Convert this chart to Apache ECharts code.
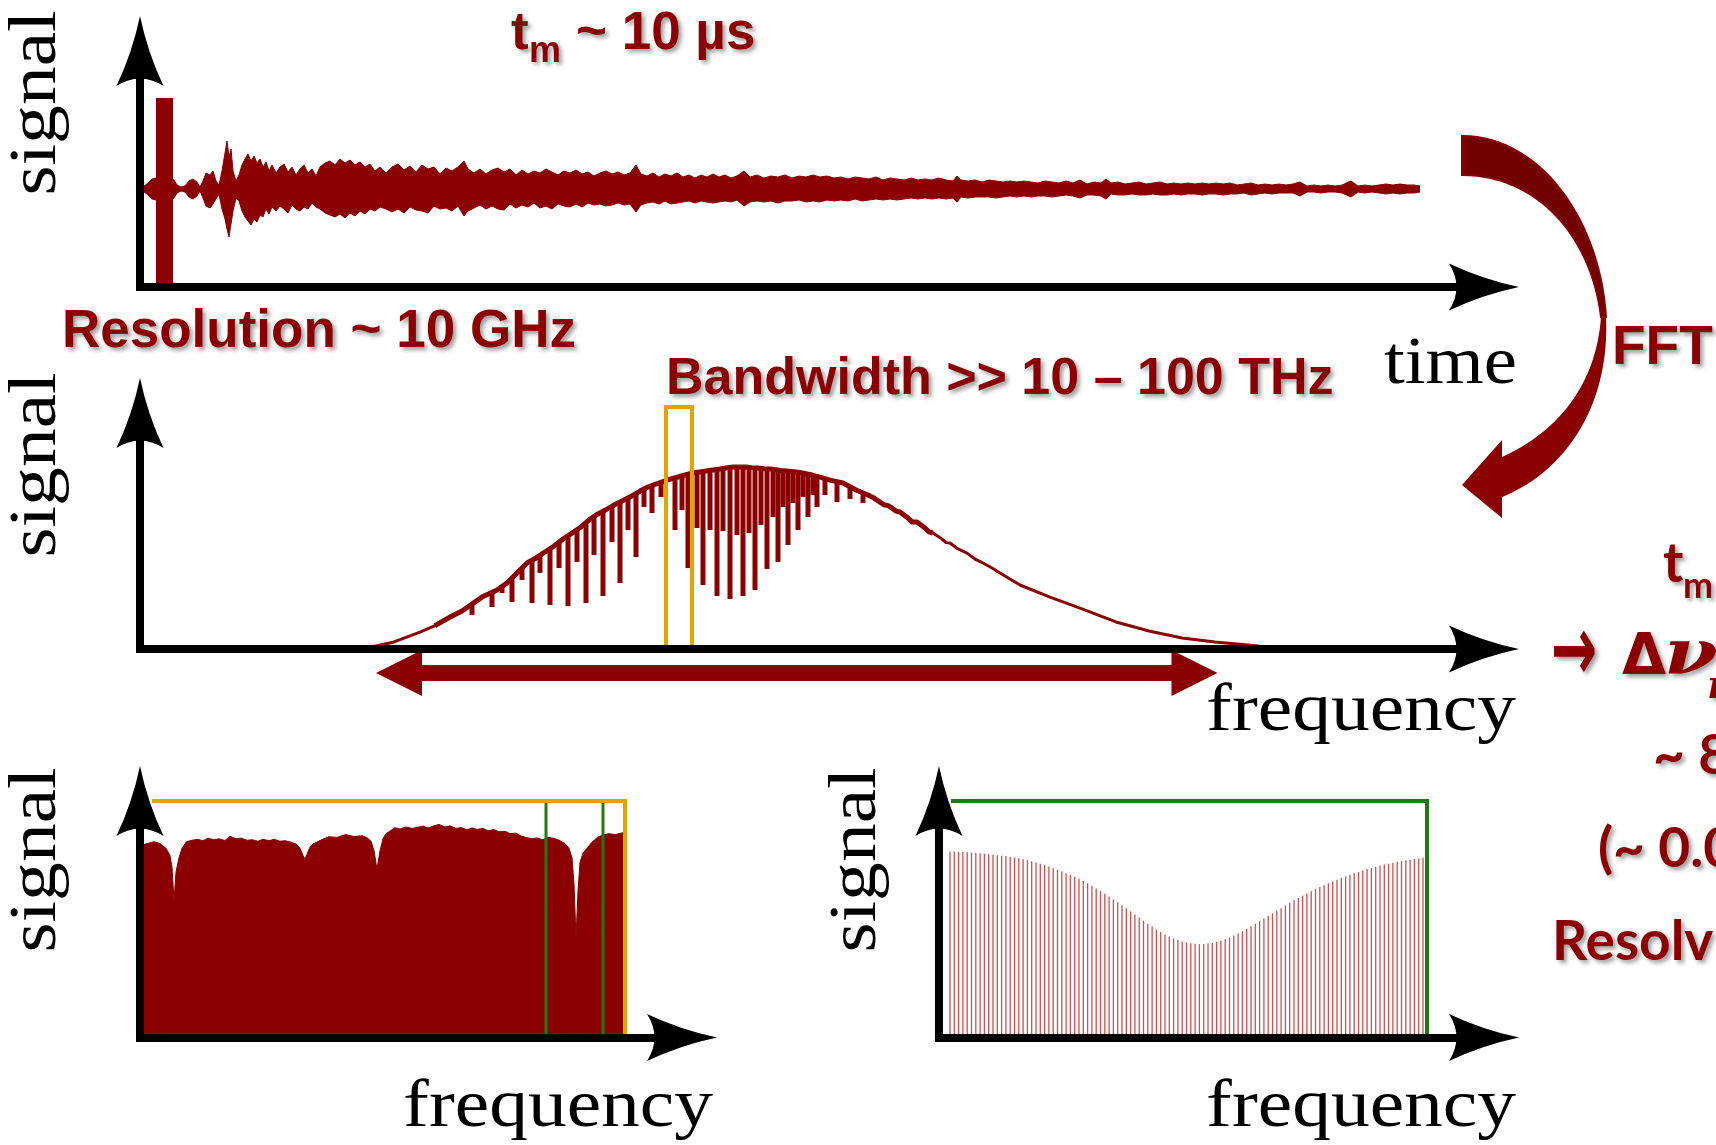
<!DOCTYPE html>
<html><head><meta charset="utf-8">
<script src="https://cdn.jsdelivr.net/npm/echarts@6/dist/echarts.min.js"></script>
<style>html,body{margin:0;padding:0;background:#fff}#c{width:1716px;height:1145px}</style>
</head><body><div id="c"></div>
<script>
// ===== DATA =====
// Panel 1: free-induction signal in time (µs), upper / lower envelope (a.u.)
const fidTime = [
 0.03,0.08,0.12,0.16,0.30,0.34,0.37,0.41,0.45,0.49,0.53,0.57,0.60,
 0.63,0.66,0.70,0.73,0.76,0.79,0.82,0.85,0.87,0.89,0.91,0.93,0.96,0.99,
 1.02,1.05,1.08,1.11,1.14,1.17,1.20,1.23,1.26,1.29,1.32,1.36,
 1.40,1.44,1.48,1.52,1.56,1.60,1.64,1.68,1.72,1.76,1.80,1.85,
 1.90,1.95,2.00,2.05,2.10,2.15,2.20,2.25,2.30,2.35,2.40,2.46,
 2.52,2.58,2.64,2.70,2.76,2.82,2.88,2.94,3.00,3.06,3.12,3.18,
 3.24,3.28,3.34,3.40,3.46,3.52,3.58,3.64,3.70,3.76,3.82,3.88,
 3.94,4.00,4.06,4.12,4.18,4.24,4.30,4.36,4.42,4.48,4.54,4.60,
 4.66,4.72,4.78,4.84,4.90,4.96,5.01,5.07,5.13,5.19,5.25,5.31,
 5.37,5.43,5.49,5.55,5.61,5.67,5.73,5.79,5.85,5.91,5.97,6.04,
 6.10,6.17,6.24,6.31,6.38,6.45,6.52,6.59,6.66,6.73,6.80,6.87,
 6.94,7.01,7.08,7.15,7.22,7.29,7.36,7.43,7.50,7.57,7.64,7.71,
 7.78,7.85,7.92,7.99,8.06,8.13,8.17,8.21,8.28,8.35,8.42,8.49,
 8.56,8.63,8.70,8.77,8.84,8.91,8.98,9.05,9.12,9.19,9.26,9.33,
 9.40,9.47,9.54,9.61,9.66,9.71,9.78,9.85,9.92,9.99,10.06,10.13,
 10.20,10.27,10.34,10.41,10.48,10.55,10.62,10.69,10.76,10.83,10.90,10.97,
 11.04,11.11,11.18,11.25,11.32,11.39,11.46,11.53,11.60,11.67,11.74,11.81,
 11.88,11.95,12.02,12.11,12.18,12.25,12.32,12.39,12.46,12.53,12.60,12.67,
 12.74,12.80];
const fidUpper = [
 2,6,10,11,11,9,4,2,3,8,10,7,2,
 8,16,14,18,8,4,18,36,48,32,40,18,8,14,
 24,30,35,28,33,26,30,22,27,18,24,16,
 22,25,17,22,14,20,24,16,20,13,22,26,
 28,24,30,26,29,24,27,22,25,18,22,16,
 22,25,19,23,17,24,20,22,15,21,18,22,
 28,20,16,20,15,19,21,17,20,14,19,15,
 18,16,20,17,14,18,16,19,15,17,13,16,
 18,15,17,14,16,24,15,13,16,12,15,13,
 16,12,14,11,14,12,15,12,14,11,13,18,
 12,14,11,13,12,14,11,13,12,14,12,13,
 11,12,10,12,11,10,12,9,11,10,9,11,
 9,10,9,11,9,8,13,9,8,9,7,9,
 8,7,8,7,8,7,6,8,7,6,8,6,
 9,5,7,6,10,6,7,5,6,7,5,6,
 7,5,6,5,6,5,6,5,6,5,6,4,
 5,6,4,5,4,5,4,5,7,3,4,3,
 4,3,4,8,3,4,3,4,5,4,5,4,
 4,3];
const fidLower = [
 -2,-6,-10,-11,-11,-9,-4,-2,-3,-8,-10,-7,-2,
 -9,-17,-19,-15,-10,-5,-20,-30,-40,-48,-35,-22,-9,-12,
 -22,-28,-32,-36,-30,-33,-26,-28,-20,-25,-18,-22,
 -17,-20,-24,-16,-20,-22,-18,-20,-14,-18,-20,-24,
 -26,-28,-25,-29,-24,-27,-22,-25,-20,-22,-18,-20,
 -23,-20,-24,-18,-21,-22,-24,-17,-20,-19,-22,-17,
 -27,-22,-19,-16,-20,-17,-20,-21,-15,-19,-16,-18,
 -14,-19,-17,-20,-15,-17,-18,-15,-18,-14,-16,-15,
 -17,-16,-14,-16,-15,-23,-16,-14,-13,-15,-12,-15,
 -14,-13,-12,-14,-12,-13,-14,-13,-12,-13,-11,-17,
 -13,-12,-13,-12,-14,-12,-12,-11,-13,-12,-13,-11,
 -12,-11,-12,-10,-12,-11,-10,-11,-10,-11,-10,-9,
 -10,-9,-10,-9,-10,-9,-13,-8,-9,-8,-8,-8,
 -9,-8,-7,-8,-7,-8,-7,-7,-8,-7,-6,-7,
 -9,-6,-6,-7,-10,-5,-6,-6,-5,-6,-6,-5,
 -6,-6,-5,-6,-5,-5,-6,-5,-5,-6,-5,-5,
 -4,-6,-5,-4,-5,-4,-4,-4,-7,-3,-3,-4,
 -3,-3,-4,-8,-3,-4,-3,-4,-5,-4,-5,-4,
 -4,-3];
const pulseTime = [0.16, 0.33];
const pulseTop = 91;

// Panel 2: broadband spectrum envelope (frequency a.u., signal normalised)
const envFreq = [
 22.7,25.4,28.0,29.5,31.2,32.2,34.2,35.7,36.7,37.7,38.7,39.6,40.5,41.4,42.3,43.2,44.1,45.0,45.8,46.7,
 47.6,48.4,49.2,50.0,50.8,51.6,52.5,53.1,53.8,54.5,55.2,56.0,56.6,57.3,58.0,58.6,59.3,60.0,60.6,61.2,
 61.8,62.4,63.0,63.6,64.1,64.6,65.1,65.6,66.1,66.6,67.1,67.5,68.1,69.0,70.3,71.6,72.8,73.4,74.0,74.4,
 74.8,75.2,75.6,76.0,76.8,77.2,77.7,78.5,78.9,79.3,80.2,80.6,81.0,81.8,82.7,83.5,84.3,85.2,86.0,88.0,
 91.0,94.0,97.6,100.9,104.2,107.5,111.9];
const envSignal = [
 0.006,0.039,0.094,0.130,0.183,0.211,0.288,0.327,0.366,0.422,0.477,0.505,0.538,0.571,0.610,0.643,0.677,0.721,0.749,0.776,
 0.804,0.826,0.849,0.876,0.898,0.915,0.932,0.943,0.954,0.965,0.976,0.982,0.987,0.993,0.998,1.004,1.009,1.009,1.009,1.006,
 1.004,1.000,0.998,0.994,0.990,0.988,0.985,0.982,0.978,0.972,0.967,0.960,0.952,0.937,0.921,0.882,0.854,0.837,0.815,0.800,
 0.795,0.782,0.765,0.760,0.727,0.705,0.704,0.671,0.650,0.643,0.610,0.590,0.588,0.555,0.532,0.499,0.477,0.449,0.422,0.355,
 0.288,0.227,0.150,0.100,0.061,0.039,0.017];
// absorption dips cut into the spectrum: position, top, bottom
const dipFreq = [
 33.2,35.2,36.2,37.2,38.2,39.2,40.0,41.0,41.9,42.8,43.7,44.6,45.4,46.3,47.2,48.0,48.8,49.6,50.4,51.2,
 52.1,53.5,54.2,54.8,55.7,56.3,57.0,57.7,58.3,59.0,59.7,60.3,60.9,61.5,62.1,62.7,63.3,63.8,64.3,64.8,
 65.3,65.8,66.3,66.8,67.3,67.7,68.5,69.7,71.0,72.3];
const dipTop = [
 0.250,0.310,0.350,0.395,0.450,0.490,0.520,0.555,0.590,0.627,0.660,0.700,0.735,0.762,0.790,0.815,0.838,0.862,0.887,0.906,
 0.924,0.950,0.960,0.970,0.980,0.985,0.990,0.996,1.000,1.006,1.009,1.009,1.008,1.005,1.002,0.999,0.996,0.992,0.989,0.987,
 0.984,0.980,0.975,0.970,0.963,0.957,0.945,0.928,0.900,0.865];
const dipBottom = [
 0.189,0.233,0.310,0.261,0.383,0.255,0.422,0.244,0.449,0.238,0.483,0.255,0.521,0.294,0.593,0.366,0.660,0.510,0.788,0.754,
 0.843,0.660,0.771,0.449,0.671,0.355,0.660,0.294,0.654,0.277,0.632,0.294,0.643,0.327,0.688,0.444,0.732,0.483,0.788,0.577,
 0.810,0.660,0.843,0.732,0.854,0.788,0.854,0.815,0.832,0.810];
const windowFreq = [52.6, 55.2];
const windowTop = 1.342;
const bandwidthFreq = [25.9, 105.45];
const bandwidthLevel = -0.133;

// Panel 3: zoomed spectrum window (frequency a.u., signal normalised)
const zoomFreq = [
 0.4,1.4,2.0,2.6,3.0,3.2,3.4,3.6,3.9,4.2,4.65,5.2,5.75,6.3,6.8,7.4,7.9,8.5,9.0,9.6,
 10.1,10.7,11.2,11.8,12.3,12.9,13.4,14.0,14.5,15.1,15.6,16.0,16.3,16.5,16.7,17.0,17.3,18.1,18.9,19.7,
 20.56,21.4,22.2,22.7,23.1,23.4,23.7,24.0,24.3,24.6,25.5,26.0,26.6,27.2,27.7,28.3,28.8,29.4,29.9,30.5,
 31.0,31.6,32.1,32.7,33.2,33.7,34.3,34.8,35.4,35.9,36.5,37.0,37.6,38.1,38.6,39.2,39.7,40.3,40.8,41.4,
 41.9,42.5,42.9,43.2,43.4,43.6,43.8,44.0,44.3,44.7,45.2,45.8,46.3,46.9,47.5,48.3];
const zoomSignal = [
 0.816,0.828,0.820,0.800,0.770,0.720,0.577,0.700,0.760,0.800,0.828,0.834,0.838,0.832,0.843,0.836,0.840,0.833,0.851,0.840,
 0.843,0.834,0.836,0.830,0.838,0.832,0.838,0.830,0.832,0.826,0.818,0.800,0.770,0.753,0.775,0.805,0.818,0.835,0.849,0.846,
 0.858,0.850,0.853,0.845,0.830,0.790,0.711,0.790,0.840,0.862,0.887,0.882,0.890,0.884,0.888,0.894,0.886,0.895,0.901,0.890,
 0.895,0.884,0.888,0.878,0.886,0.880,0.884,0.874,0.879,0.870,0.872,0.862,0.864,0.852,0.846,0.840,0.844,0.836,0.846,0.842,
 0.834,0.820,0.800,0.760,0.650,0.420,0.620,0.740,0.780,0.800,0.826,0.848,0.856,0.862,0.858,0.866];
const zoomWindowFreq = [1.2, 48.5];
const lineWindowFreq = [40.6, 46.3];

// Panel 4: resolved comb of lines (heights, normalised)
const combStart = 1.1;
const combSpacing = 0.43;
const combHeights = [
 0.786,0.786,0.785,0.784,0.783,0.782,0.780,0.779,0.777,0.775,0.773,0.771,0.769,0.767,0.764,0.761,0.758,0.754,0.750,0.745,
 0.740,0.735,0.729,0.723,0.716,0.709,0.702,0.695,0.688,0.680,0.671,0.662,0.652,0.641,0.630,0.619,0.608,0.596,0.584,0.572,
 0.559,0.546,0.533,0.520,0.507,0.494,0.481,0.469,0.457,0.446,0.436,0.427,0.419,0.412,0.406,0.401,0.398,0.396,0.395,0.395,
 0.397,0.400,0.404,0.409,0.415,0.423,0.431,0.440,0.449,0.459,0.470,0.481,0.492,0.503,0.514,0.525,0.536,0.547,0.558,0.569,
 0.580,0.590,0.600,0.609,0.618,0.627,0.636,0.644,0.652,0.660,0.667,0.674,0.681,0.688,0.694,0.700,0.706,0.712,0.717,0.722,
 0.727,0.731,0.735,0.739,0.743,0.746,0.749,0.752,0.755,0.757,0.760];
const combWindowFreq = [1.2, 48.8];

// ===== STYLE / BUILD =====
const RED = '#8B0000', ORANGE = '#E2A500', GREEN = '#1E7A0E';
const ARROW = 'path://M23.5,0 Q31,36 47,70 Q23.5,55 0,70 Q16,36 23.5,0 Z';
function axis(gi, min, max) {
  return {
    gridIndex: gi, type: 'value', min: min, max: max, z: 5,
    axisLine: {show: true, onZero: false, symbol: ['none', ARROW], symbolSize: [47, 70],
      lineStyle: {color: '#000', width: 8, cap: 'square'}},
    axisTick: {show: false}, axisLabel: {show: false}, splitLine: {show: false}
  };
}
const zip = (a, b) => a.map((v, i) => [v, b[i]]);
const envAll = zip(envFreq, envSignal);
const envCore = envAll.filter(p => p[0] >= 29 && p[0] <= 80);

function bez(p0, p1, p2, p3, n) {
  const pts = [];
  for (let i = 0; i <= n; i++) {
    const t = i / n, u = 1 - t;
    pts.push([u*u*u*p0[0] + 3*u*u*t*p1[0] + 3*u*t*t*p2[0] + t*t*t*p3[0],
              u*u*u*p0[1] + 3*u*u*t*p1[1] + 3*u*t*t*p2[1] + t*t*t*p3[1]]);
  }
  return pts;
}
const fftTop = bez([1462,136],[1540,136],[1600,220],[1606,317],30)
  .concat(bez([1601,317],[1592,240],[1540,175],[1462,175],30));
const fftBottom = bez([1606,317],[1610,400],[1570,470],[1500,498],30)
  .concat(bez([1500,458],[1558,432],[1596,385],[1601,317],30));
const fftHead = [[1502,440],[1462,485],[1502,518]];

const SHADOW = {textShadowColor: 'rgba(0,0,0,0.38)', textShadowBlur: 4, textShadowOffsetX: 3, textShadowOffsetY: 3};
function t(text, x, y, font, extra, styleExtra) {
  return Object.assign({type: 'text', x: x, y: y, silent: true, z: 20,
    style: Object.assign({text: text, font: font, fill: '#000', align: 'left', verticalAlign: 'middle'}, styleExtra || {})}, extra || {});
}
const SERIF = '68px "Liberation Serif", "DejaVu Serif", serif';
const BOLD = (s) => 'bold ' + s + 'px "Liberation Sans", Arial, sans-serif';
const LATO = (s) => 'bold ' + s + 'px Lato, "Open Sans", sans-serif';
const redS = (o) => Object.assign({fill: RED}, SHADOW, o || {});

const graphics = [
  {type: 'polygon', silent: true, z: 10, shape: {points: fftTop}, style: {fill: '#730000', stroke: '#8B0000', lineWidth: 2}},
  {type: 'polygon', silent: true, z: 10, shape: {points: fftBottom}, style: {fill: RED}},
  {type: 'polygon', silent: true, z: 10, shape: {points: fftHead}, style: {fill: RED}},
  // axis names
  t('signal', 37, 103, SERIF, {rotation: Math.PI / 2, scaleX: 1.14}, {align: 'center'}),
  t('signal', 37, 465, SERIF, {rotation: Math.PI / 2, scaleX: 1.14}, {align: 'center'}),
  t('signal', 37, 860, SERIF, {rotation: Math.PI / 2, scaleX: 1.14}, {align: 'center'}),
  t('signal', 857, 860, SERIF, {rotation: Math.PI / 2, scaleX: 1.14}, {align: 'center'}),
  t('time', 1517, 365, SERIF, {scaleX: 1.1}, {align: 'right'}),
  t('frequency', 1516, 712, SERIF, {scaleX: 1.14}, {align: 'right'}),
  t('frequency', 713, 1108, SERIF, {scaleX: 1.14}, {align: 'right'}),
  t('frequency', 1516, 1108, SERIF, {scaleX: 1.14}, {align: 'right'}),
  // red annotations
  t('t', 511, 34, BOLD(53), null, redS()),
  t('m', 529, 52, BOLD(36), null, redS()),
  t('~ 10 µs', 576, 34, BOLD(53), null, redS()),
  t('Resolution ~ 10 GHz', 62, 332, BOLD(53), null, redS()),
  t('Bandwidth >> 10 – 100 THz', 666, 380, BOLD(52), null, redS()),
  t('FFT', 1612, 349, BOLD(55), null, redS()),
  // right-hand note (cut by the frame)
  t('t', 1663, 564, LATO(55), null, redS()),
  t('m', 1683, 586, LATO(36), null, redS()),
  t('→', 1551, 656, 'bold 92px "DejaVu Sans", sans-serif', {scaleX: 0.6}, redS()),
  t('Δ', 1622, 659, 'bold 57px "DejaVu Sans", sans-serif', null, redS()),
  t('ν', 1664, 657, 'bold italic 62px "DejaVu Serif", serif', {scaleX: 1.25}, redS()),
  t('m', 1707, 688, 'bold italic 40px "DejaVu Serif", serif', null, redS()),
  t('~ 8', 1653, 756, LATO(55), null, redS()),
  t('(~ 0.0', 1598, 849, LATO(55), null, redS()),
  t('Resolv', 1552, 942, LATO(55), null, redS())
];

const option = {
  animation: false,
  backgroundColor: '#fff',
  grid: [
    {left: 140, top: 51, width: 1344, height: 236, outerBoundsMode: 'none'},
    {left: 140, top: 413, width: 1344, height: 236, outerBoundsMode: 'none'},
    {left: 140, top: 801, width: 542, height: 236.5, outerBoundsMode: 'none'},
    {left: 939, top: 801, width: 545, height: 236.5, outerBoundsMode: 'none'}
  ],
  xAxis: [axis(0, 0, 13.44), axis(1, 0, 134.4), axis(2, 0, 54.2), axis(3, 0, 54.5)],
  yAxis: [axis(0, -98, 138), axis(1, 0, 1.309), axis(2, 0, 1), axis(3, 0, 1)],
  series: [
    {type: 'line', xAxisIndex: 0, yAxisIndex: 0, data: zip(fidTime, fidUpper), symbol: 'none', silent: true,
     lineStyle: {width: 1, color: RED}, areaStyle: {color: RED, opacity: 1}, z: 2,
     markArea: {silent: true, itemStyle: {color: RED, opacity: 1},
       data: [[{coord: [pulseTime[0], -98]}, {coord: [pulseTime[1], pulseTop]}]]}},
    {type: 'line', xAxisIndex: 0, yAxisIndex: 0, data: zip(fidTime, fidLower), symbol: 'none', silent: true,
     lineStyle: {width: 1, color: RED}, areaStyle: {color: RED, opacity: 1}, z: 2},

    {type: 'line', xAxisIndex: 1, yAxisIndex: 1, data: envAll, symbol: 'none', silent: true,
     lineStyle: {width: 3, color: RED, join: 'round'}, z: 2},
    {type: 'line', xAxisIndex: 1, yAxisIndex: 1, data: envCore, symbol: 'none', silent: true,
     lineStyle: {width: 5, color: RED, join: 'round'}, z: 2},
    {type: 'custom', xAxisIndex: 1, yAxisIndex: 1, silent: true, z: 2,
     data: dipFreq.map((f, i) => [f, dipTop[i], dipBottom[i]]),
     encode: {x: 0, y: [1, 2]},
     renderItem: function (params, api) {
       const a = api.coord([api.value(0), api.value(1)]);
       const b = api.coord([api.value(0), api.value(2)]);
       return {type: 'line', shape: {x1: a[0], y1: a[1], x2: b[0], y2: b[1]},
               style: {stroke: RED, lineWidth: 5, lineCap: 'butt'}};
     }},
    {type: 'line', xAxisIndex: 1, yAxisIndex: 1, symbol: 'none', silent: true, clip: false, z: 4,
     data: [[windowFreq[0], 0], [windowFreq[0], windowTop], [windowFreq[1], windowTop], [windowFreq[1], 0]],
     lineStyle: {width: 4, color: ORANGE, join: 'miter'}},
    {type: 'line', xAxisIndex: 1, yAxisIndex: 1, silent: true, clip: false, z: 3,
     symbol: 'triangle', symbolSize: 46, showSymbol: true,
     data: [{value: [bandwidthFreq[0], bandwidthLevel], symbolRotate: 90},
            {value: [bandwidthFreq[1], bandwidthLevel], symbolRotate: -90}],
     lineStyle: {width: 16, color: RED, cap: 'butt'}, itemStyle: {color: RED, borderWidth: 0}},

    {type: 'line', xAxisIndex: 2, yAxisIndex: 2, data: zip(zoomFreq, zoomSignal), symbol: 'none', silent: true,
     lineStyle: {width: 1, color: RED}, areaStyle: {color: RED, opacity: 1}, z: 2},
    {type: 'line', xAxisIndex: 2, yAxisIndex: 2, symbol: 'none', silent: true, clip: false, z: 3,
     data: [[lineWindowFreq[0], 0], [lineWindowFreq[0], 1], [lineWindowFreq[1], 1], [lineWindowFreq[1], 0]],
     lineStyle: {width: 3, color: GREEN, join: 'miter'}},
    {type: 'line', xAxisIndex: 2, yAxisIndex: 2, symbol: 'none', silent: true, clip: false, z: 4,
     data: [[zoomWindowFreq[0], 1], [zoomWindowFreq[1], 1], [zoomWindowFreq[1], 0]],
     lineStyle: {width: 4, color: ORANGE, join: 'miter'}},

    {type: 'bar', xAxisIndex: 3, yAxisIndex: 3, silent: true, barWidth: 1.3,
     data: combHeights.map((h, i) => [combStart + i * combSpacing, h]),
     itemStyle: {color: 'rgba(196,48,48,0.85)'}, z: 2},
    {type: 'line', xAxisIndex: 3, yAxisIndex: 3, symbol: 'none', silent: true, clip: false, z: 4,
     data: [[combWindowFreq[0], 1], [combWindowFreq[1], 1], [combWindowFreq[1], 0]],
     lineStyle: {width: 4, color: GREEN, join: 'miter'}}
  ],
  graphic: graphics
};
const chart = echarts.init(document.getElementById('c'), null, {renderer: 'canvas'});
chart.setOption(option);
</script>
</body></html>
